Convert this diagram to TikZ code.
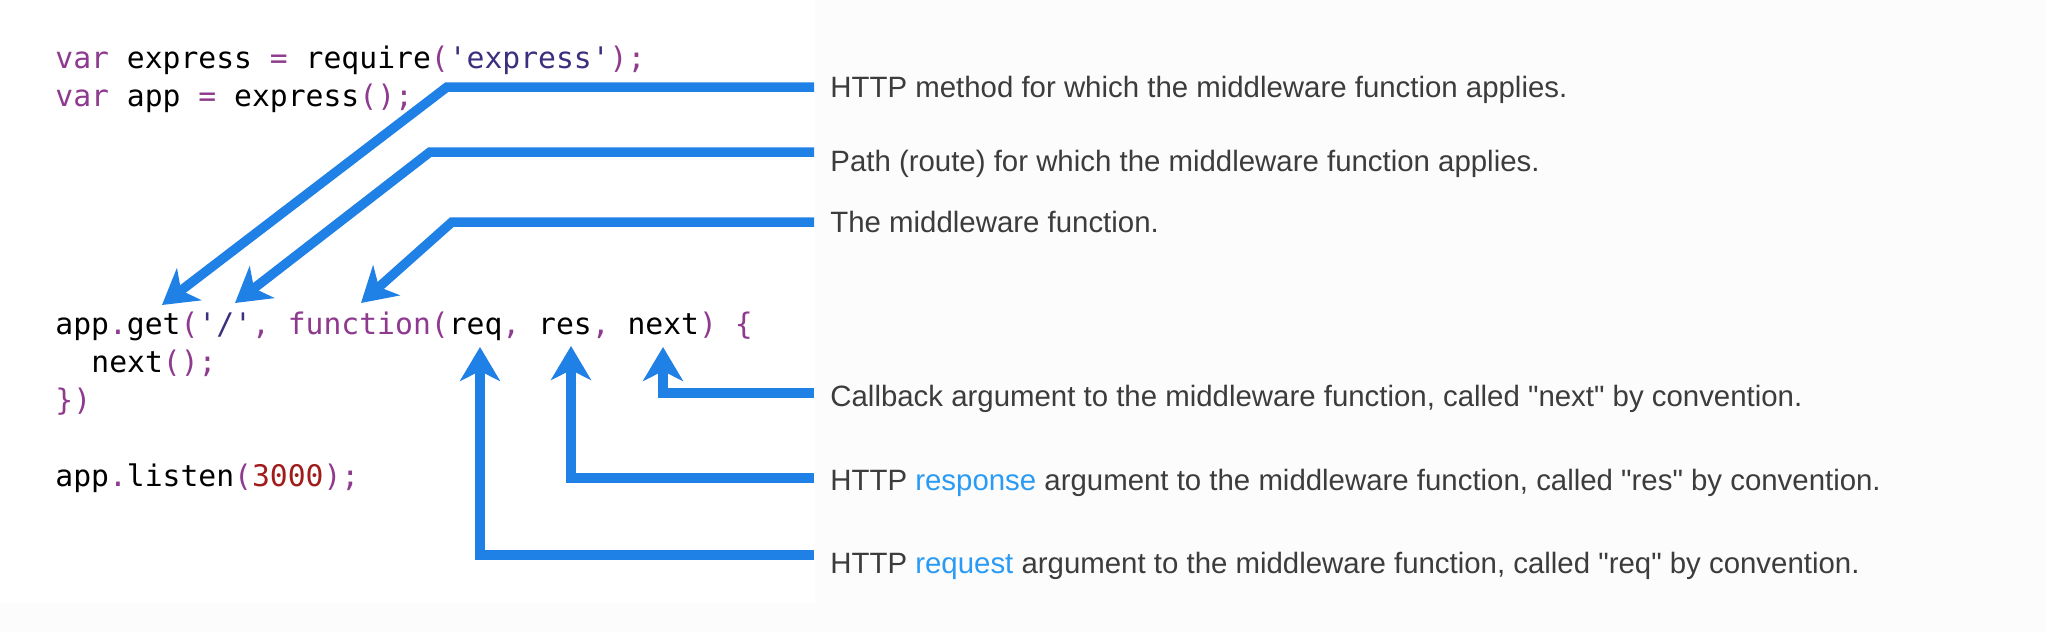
\documentclass[tikz,border=0pt]{standalone}
\usepackage{fontspec}
\setmainfont{Liberation Sans}[Ligatures=TeXOff]
\newfontfamily\codefont{DejaVu Sans Mono}
\usepackage{xcolor}
\usepackage{tikz}
\usetikzlibrary{positioning,arrows.meta}
\definecolor{mArrowBlue}{HTML}{1F80E5}
\definecolor{mLinkBlue}{HTML}{2A9BF5}
\definecolor{mTextGrey}{HTML}{3C3C3C}
\definecolor{mKeyword}{HTML}{8E3A8E}
\definecolor{mString}{HTML}{3E2F7E}
\definecolor{mNumber}{HTML}{A11B1B}
\definecolor{mPageBg}{HTML}{FCFCFC}
\newcommand{\kw}[1]{\textcolor{mKeyword}{#1}}
\newcommand{\str}[1]{\textcolor{mString}{#1}}
\newcommand{\num}[1]{\textcolor{mNumber}{#1}}
\newcommand{\lnk}[1]{\textcolor{mLinkBlue}{#1}}

\begin{document}
\begin{tikzpicture}[x=0.5pt, y=-0.5pt,
  codeline/.style={anchor=base west, inner sep=0pt, text=black, font=\codefont\fontsize{14.85}{19}\selectfont},
  note/.style={anchor=base west, inner sep=0pt, text=mTextGrey, font=\fontsize{14.7}{18}\selectfont},
  callout/.style={draw=mArrowBlue, line width=4.75pt, line join=miter, -{Stealth[length=17pt, width=20pt, inset=5pt]}}]
\useasboundingbox (0,0) rectangle (2046,632);
\fill[mPageBg] (0,0) rectangle (2046,632);
\fill[white] (0,0) rectangle (815,603);
% code
\node[codeline] (line1) at (55,68) {\kw{var} express \kw{=} require\kw{(}\str{'express'}\kw{);}};
\node[codeline] (line2) at (55,106) {\kw{var} app \kw{=} express\kw{();}};
\node[codeline] (lineget) at (55,334) {app\kw{.}get\kw{(}\str{'/'}\kw{,} \kw{function(}req\kw{,} res\kw{,} next\kw{)} \kw{\{}};
\node[codeline] (linenext) at (91,372) {next\kw{();}};
\node[codeline] (lineclose) at (55,410) {\kw{\})}};
\node[codeline] (linelisten) at (55,486) {app\kw{.}listen\kw{(}\num{3000}\kw{);}};
% notes
\node[note] (lblmethod) at (830,97) {HTTP method for which the middleware function applies.};
\node[note] (lblpath) at (830,171) {Path (route) for which the middleware function applies.};
\node[note] (lblmw) at (830,232) {The middleware function.};
\node[note] (lblnext) at (830,406) {Callback argument to the middleware function, called "next" by convention.};
\node[note] (lblres) at (830,490) {HTTP \lnk{response} argument to the middleware function, called "res" by convention.};
\node[note] (lblreq) at (830,573) {HTTP \lnk{request} argument to the middleware function, called "req" by convention.};
% arrow ends
\coordinate (stubmethod) at (814,87);
\coordinate (stubpath) at (814,152);
\coordinate (stubmw) at (814,222);
\coordinate (stubnext) at (814,393);
\coordinate (stubres) at (814,478);
\coordinate (stubreq) at (814,555);
\coordinate (tipmethod) at (162,305);
\coordinate (tippath) at (235,303);
\coordinate (tipmw) at (361,303);
\coordinate (tipnext) at (663,347);
\coordinate (tipres) at (571,346);
\coordinate (tipreq) at (480,347);
\draw[callout] (stubmethod) -- (447,87) -- (tipmethod);
\draw[callout] (stubpath) -- (430,152) -- (tippath);
\draw[callout] (stubmw) -- (452,222) -- (tipmw);
\draw[callout] (stubnext) -| (tipnext);
\draw[callout] (stubres) -| (tipres);
\draw[callout] (stubreq) -| (tipreq);
\end{tikzpicture}
\end{document}
